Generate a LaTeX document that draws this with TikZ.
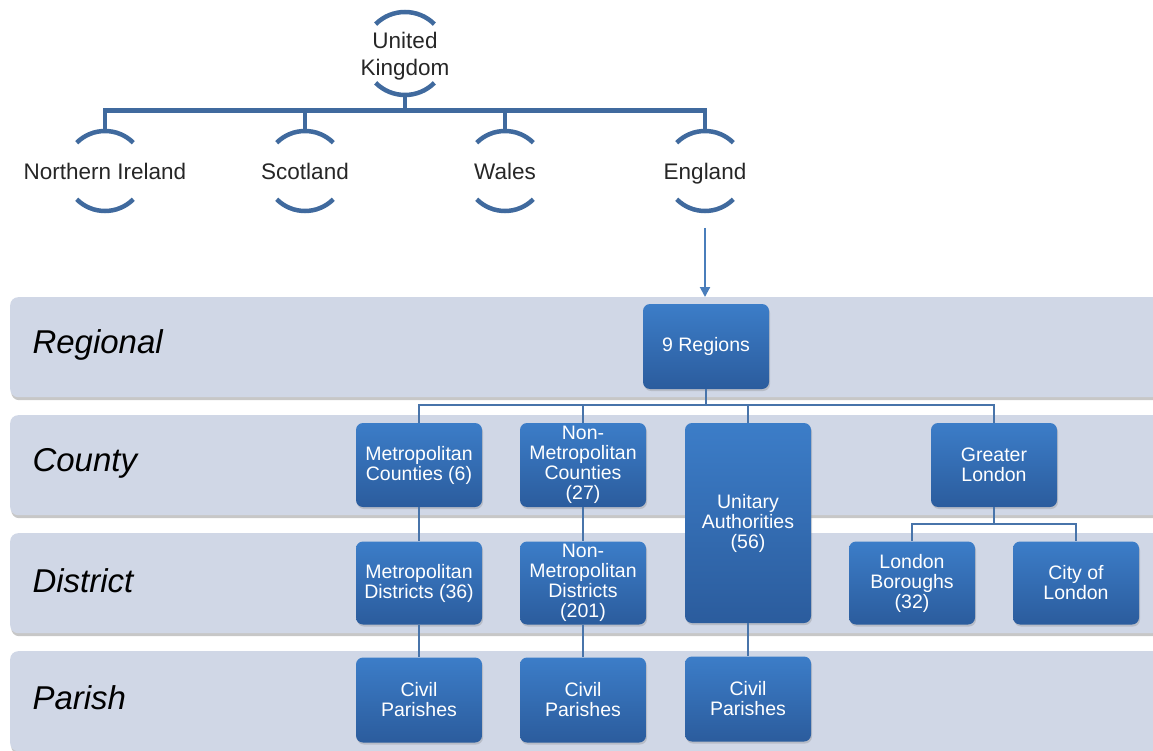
\documentclass[tikz,border=0pt]{standalone}
\usepackage{fontspec}
\setmainfont{Liberation Sans}
\usetikzlibrary{shadows,arrows.meta}
\definecolor{linec}{RGB}{64,106,158}
\definecolor{connc}{RGB}{72,116,170}
\definecolor{arrowc}{RGB}{74,126,187}
\definecolor{bandc}{RGB}{208,215,230}
\definecolor{boxtop}{RGB}{60,125,200}
\definecolor{boxbot}{RGB}{43,92,157}
\begin{document}
\begin{tikzpicture}[x=1pt,y=1pt,
  country/.style={rectangle, inner sep=0pt, align=center,
    font=\fontsize{22.5}{27}\selectfont, text=black!85},
  oneline/.style={text height=18pt, text depth=0pt},
  ukarc/.style={line width=4.5pt, draw=linec},
  band/.style={fill=bandc, rounded corners=8pt, anchor=north west, inner sep=0pt,
    minimum width=1160pt, minimum height=100pt,
    drop shadow={shadow xshift=1pt, shadow yshift=-3pt, fill=black, opacity=0.22}},
  bandlabel/.style={anchor=west, font=\fontsize{33}{38}\selectfont\itshape},
  unit/.style={rounded corners=7pt, top color=boxtop, bottom color=boxbot, text=white,
    align=center, minimum width=126pt, minimum height=84pt, inner sep=0pt,
    font=\fontsize{19.5}{20}\selectfont,
    drop shadow={shadow xshift=1pt, shadow yshift=-2pt, opacity=0.3}},
  conn/.style={draw=connc, line width=2pt}
]
\useasboundingbox (0,0) rectangle (1153,-751);

% bands
\node[band] (bregional) at (10,-297) {};
\node[band] (bcounty)   at (10,-415) {};
\node[band] (bdistrict) at (10,-533) {};
\node[band] (bparish)   at (10,-651) {};
\node[bandlabel] (lregional) at (29,-345) {Regional};
\node[bandlabel] (lcounty)   at (29,-463) {County};
\node[bandlabel] (ldistrict) at (29,-581) {District};
\node[bandlabel] (lparish)   at (29,-698) {Parish};

% countries
\coordinate (ukc) at (405,-53.5);
\node[country] (uk) at (405,-56) {United\\Kingdom};
\node[country, oneline] (ni) at (105,-171) {Northern Ireland};
\node[country, oneline] (sc) at (305,-171) {Scotland};
\node[country, oneline] (wa) at (505,-171) {Wales};
\node[country, oneline] (en) at (705,-171) {England};

\foreach \n/\r in {ukc/41.5, ni/40, sc/40, wa/40, en/40} {
  \draw[ukarc] ([shift={(45:\r)}]\n.center) arc[start angle=45, end angle=135, radius=\r];
  \draw[ukarc] ([shift={(-135:\r)}]\n.center) arc[start angle=-135, end angle=-45, radius=\r];
}
\coordinate (ukbottom) at ([yshift=-41.5pt]ukc);
\foreach \c in {ni,sc,wa,en}
  \draw[ukarc] (ukbottom) -- ++(0,-15.5) -| ([yshift=40pt]\c.center);

\coordinate (enarrow) at ([yshift=-57pt]en.center);
\draw[draw=arrowc, line width=2pt, -{Triangle[length=10pt,width=10pt]}] (enarrow) -- (enarrow |- bregional.north);

% units
\node[unit, minimum height=85pt] (reg) at (706,-346.5) {9 Regions};
\node[unit] (mc)  at (419,-465) {Metropolitan\\Counties (6)};
\node[unit] (nmc) at (583,-465) {Non-\\Metropolitan\\Counties\\(27)};
\node[unit, minimum height=200pt] (ua) at (748,-523) {Unitary\\Authorities\\(56)};
\node[unit] (gl)  at (994,-465) {Greater\\London};
\node[unit, minimum height=83pt] (lb)  at (912,-583) {London\\Boroughs\\(32)};
\node[unit, minimum height=83pt] (cl)  at (1076,-583) {City of\\London};
\node[unit, minimum height=83pt] (md)  at (419,-583) {Metropolitan\\Districts (36)};
\node[unit, minimum height=83pt] (nmd) at (583,-583) {Non-\\Metropolitan\\Districts\\(201)};
\node[unit, minimum height=85pt] (cp1) at (419,-700) {Civil\\Parishes};
\node[unit, minimum height=85pt] (cp2) at (583,-700) {Civil\\Parishes};
\node[unit, minimum height=85pt] (cp3) at (748,-699) {Civil\\Parishes};

% connectors
\foreach \c in {mc,nmc,ua,gl}
  \draw[conn] (reg.south) -- ++(0,-16) -| (\c.north);
\foreach \c in {lb,cl}
  \draw[conn] (gl.south) -- ++(0,-17) -| (\c.north);
\draw[conn] (mc.south) -- (md.north);
\draw[conn] (nmc.south) -- (nmd.north);
\draw[conn] (md.south) -- (cp1.north);
\draw[conn] (nmd.south) -- (cp2.north);
\draw[conn] (ua.south) -- (cp3.north);
\end{tikzpicture}
\end{document}
